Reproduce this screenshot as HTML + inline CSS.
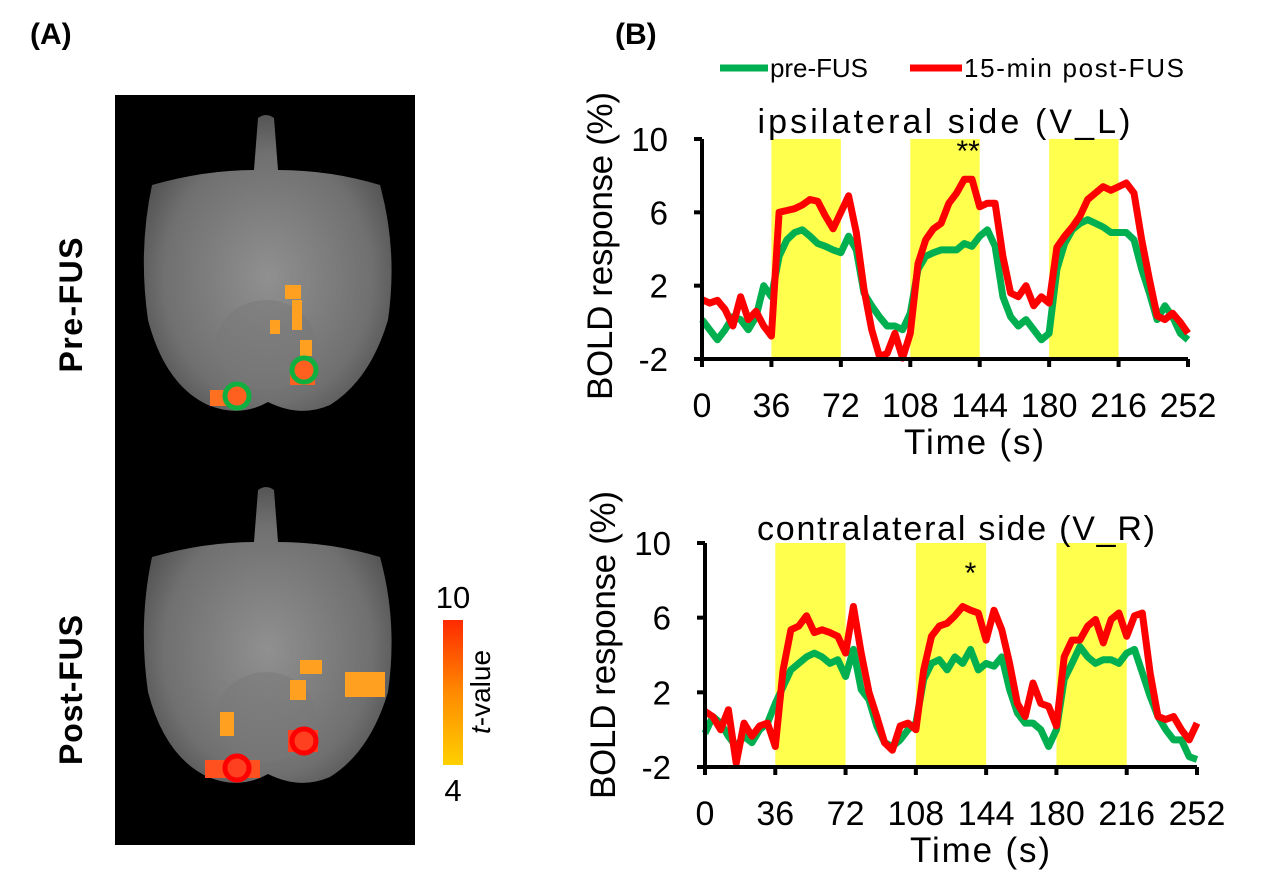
<!DOCTYPE html>
<html><head><meta charset="utf-8"><style>
body{margin:0;background:#fff;width:1268px;height:881px;overflow:hidden;font-family:"Liberation Sans","Noto Sans CJK SC",sans-serif}
svg text{font-family:"Liberation Sans","Noto Sans CJK SC",sans-serif;fill:#000}
</style></head><body>
<svg id="fig" width="1268" height="881" viewBox="0 0 1268 881">
<defs>
<radialGradient id="brainG" cx="0.5" cy="0.55" r="0.6">
<stop offset="0" stop-color="#909090"/><stop offset="0.7" stop-color="#707070"/><stop offset="1" stop-color="#4a4a4a"/></radialGradient>
<linearGradient id="cbar" x1="0" y1="0" x2="0" y2="1"><stop offset="0" stop-color="#ff2a00"/><stop offset="0.5" stop-color="#ff8a00"/><stop offset="1" stop-color="#ffd000"/></linearGradient>
</defs>
<text x="30" y="44" font-size="30" font-weight="bold">(A)</text>
<text x="615" y="44" font-size="30" font-weight="bold">(B)</text>
<rect x="115" y="95" width="300" height="750" fill="#000"/>
<g>
<path d="M258,118 Q266,112 274,118 L278,170 Q330,170 380,185 Q398,250 388,320 Q370,380 330,405 Q300,418 268,402 Q240,418 208,405 Q165,385 148,320 Q138,250 152,185 Q205,170 254,170 Z" fill="url(#brainG)"/>
<ellipse cx="266" cy="345" rx="50" ry="45" fill="#777" opacity="0.5"/>
</g>
<g>
<path d="M258,490 Q266,484 274,490 L278,542 Q330,542 380,557 Q398,622 388,692 Q370,752 330,777 Q300,790 268,774 Q240,790 208,777 Q165,757 148,692 Q138,622 152,557 Q205,542 254,542 Z" fill="url(#brainG)"/>
<ellipse cx="266" cy="717" rx="50" ry="45" fill="#777" opacity="0.5"/>
</g>
<g fill="#ffa020">
<rect x="285" y="285" width="16" height="14"/><rect x="292" y="300" width="10" height="30"/><rect x="270" y="320" width="10" height="14"/><rect x="300" y="340" width="12" height="16"/><rect x="210" y="390" width="35" height="16" fill="#ff7020"/><rect x="290" y="365" width="25" height="20" fill="#ff6020"/>
</g>
<g fill="#ffa020">
<rect x="300" y="660" width="22" height="14"/><rect x="345" y="672" width="40" height="25"/><rect x="290" y="680" width="16" height="20"/><rect x="220" y="712" width="14" height="24"/><rect x="205" y="760" width="55" height="18" fill="#ff5020"/><rect x="288" y="730" width="30" height="22" fill="#ff4020"/>
</g>
<circle cx="237" cy="396" r="12" fill="#ff6020" stroke="#10b040" stroke-width="5"/>
<circle cx="304" cy="370" r="12" fill="#ff6020" stroke="#10b040" stroke-width="5"/>
<circle cx="237" cy="768" r="12" fill="#ff4020" stroke="#ff0000" stroke-width="5"/>
<circle cx="304" cy="741" r="12" fill="#ff4020" stroke="#ff0000" stroke-width="5"/>
<text transform="translate(82,305) rotate(-90)" text-anchor="middle" font-size="32" font-weight="bold" textLength="135">Pre-FUS</text>
<text transform="translate(82,690) rotate(-90)" text-anchor="middle" font-size="32" font-weight="bold" textLength="150">Post-FUS</text>
<rect x="443" y="620" width="20" height="145" fill="url(#cbar)"/>
<text x="453" y="608" text-anchor="middle" font-size="31">10</text>
<text x="453" y="801" text-anchor="middle" font-size="31">4</text>
<text transform="translate(490,692) rotate(-90)" text-anchor="middle" font-size="28"><tspan font-style="italic">t</tspan>-value</text>
<g>
<line x1="720" y1="68" x2="768" y2="68" stroke="#00b050" stroke-width="7"/>
<text x="770" y="77" font-size="26" textLength="98">pre-FUS</text>
<line x1="910" y1="68" x2="962" y2="68" stroke="#ff0000" stroke-width="7"/>
<text x="964" y="77" font-size="26" textLength="220">15-min post-FUS</text>
</g>
<g id="c1"></g><g id="c2"></g>
</svg>
<script>
const xTicks=[0,36,72,108,144,180,216,252];
const yTicks=[-2,2,6,10];
const stimBlocks=[[36,72],[108,144],[180,216]];
const times=[];for(let t=0;t<=252;t+=4)times.push(t);
const ipsiPost=[1.24,1.05,1.2,0.7,-0.2,1.4,0.15,0.6,-0.2,-0.75,6.0,6.1,6.2,6.4,6.7,6.6,5.8,5.1,6.0,6.9,4.9,1.8,-0.4,-1.85,-1.7,-0.6,-1.95,-0.6,3.2,4.5,5.1,5.4,6.5,7.05,7.8,7.8,6.3,6.5,6.5,3.6,1.6,1.4,2.0,0.9,1.4,1.05,4.1,4.7,5.2,5.8,6.7,7.05,7.4,7.2,7.4,7.6,7.05,4.5,2.35,0.35,0.15,0.5,0,-0.6];
const ipsiPre=[0.15,-0.4,-0.95,-0.4,0.3,0.15,-0.4,0.3,2.0,1.4,3.6,4.5,4.9,5.05,4.7,4.3,4.15,3.95,3.8,4.7,3.95,1.6,0.9,0.3,-0.2,-0.2,-0.4,0.5,2.9,3.6,3.8,3.95,3.95,3.95,4.3,4.15,4.7,5.05,4.15,1.4,0.3,-0.2,0.15,-0.4,-0.95,-0.6,2.9,4.3,5.05,5.4,5.6,5.4,5.2,4.9,4.9,4.9,4.5,2.9,1.6,0.15,0.9,0.3,-0.6,-0.95];
const contraPost=[0.98,0.7,0,1.07,-1.8,0.35,-0.35,0.2,0.35,-0.9,3.2,5.35,5.55,6.1,5.2,5.35,5.2,5.0,4.1,6.6,4.1,2.0,0.7,-0.7,-1.1,0.2,0.35,0,3.2,5.0,5.55,5.7,6.1,6.6,6.4,6.25,4.8,6.4,5.35,3.55,1.4,0.7,2.5,1.4,1.25,0.2,3.9,4.8,4.8,5.55,5.9,4.65,5.9,6.25,5.0,6.1,6.25,3.05,0.7,0.55,0.7,0,-0.55,0.35];
const contraPre=[-0.2,0.7,0.35,-0.35,-0.9,-0.35,-0.7,0,0.35,1.4,2.3,3.2,3.55,3.9,4.1,3.9,3.55,3.75,2.85,4.3,2.15,1.6,0.2,-0.7,-0.9,-0.55,0,0.35,2.7,3.55,3.75,3.2,3.9,3.55,4.3,3.2,3.55,3.4,3.9,2.15,0.9,0.35,0.35,0,-0.9,0,2.7,3.55,4.45,3.9,3.55,3.75,3.75,3.55,4.1,4.3,3.05,1.8,0.7,0,-0.55,-0.55,-1.45,-1.6];
const NS='http://www.w3.org/2000/svg';
function mk(p,tag,a){const e=document.createElementNS(NS,tag);for(const k in a)e.setAttribute(k,a[k]);p.appendChild(e);return e;}
function chart(gid,cfg){
 const g=document.getElementById(gid);
 const X=t=>cfg.x0+(t-0)*(cfg.x1-cfg.x0)/252;
 const Y=v=>cfg.yb+(v+2)*(cfg.yt-cfg.yb)/12;
 stimBlocks.forEach(b=>{const r=mk(g,'rect',{x:X(b[0]),y:cfg.yt,width:X(b[1])-X(b[0]),height:cfg.yb-cfg.yt,fill:'#ffff4d'});
  
  });
 [[cfg.pre,'#00b050','pre-fus-line'],[cfg.post,'#ff0000','post-fus-line']].forEach(s=>{
  const d=s[0].map((v,i)=>(i?'L':'M')+X(times[i]).toFixed(1)+','+Y(v).toFixed(1)).join('');
  const p=mk(g,'path',{d:d,fill:'none',stroke:s[1],'stroke-width':7,'stroke-linejoin':'round'});
  
  });
 const ax=mk(g,'path',{d:`M${cfg.x0},${cfg.yt} V${cfg.yb} H${cfg.x1}`,fill:'none',stroke:'#000','stroke-width':4});
 
 
 xTicks.forEach(t=>{mk(g,'line',{x1:X(t),x2:X(t),y1:cfg.yb,y2:cfg.yb+8,stroke:'#000','stroke-width':4});
  const tx=mk(g,'text',{x:X(t),y:cfg.yb+58,'text-anchor':'middle','font-size':34});tx.textContent=t;
  
  });
 yTicks.forEach(v=>{mk(g,'line',{x1:cfg.x0-8,x2:cfg.x0,y1:Y(v),y2:Y(v),stroke:'#000','stroke-width':4});
  const tx=mk(g,'text',{x:cfg.x0-34,y:Y(v)+12,'text-anchor':'end','font-size':33});tx.textContent=v;
  
  });
 const xt=mk(g,'text',{x:(cfg.x0+cfg.x1)/2+29,y:cfg.yb+95,'text-anchor':'middle','font-size':35,textLength:140});xt.textContent='Time (s)';
 
 
 const yt=mk(g,'text',{transform:`translate(${cfg.x0-90},${cfg.ymid}) rotate(-90)`,'text-anchor':'middle','font-size':35,textLength:308});yt.textContent='BOLD response (%)';
 
 
 const ti=mk(g,'text',{x:cfg.tx,y:cfg.yt+cfg.tdy,'text-anchor':'middle','font-size':34,textLength:cfg.tw});ti.textContent=cfg.title;
 
 
 const st=mk(g,'text',{x:X(cfg.starT),y:cfg.yt+cfg.starDy,'text-anchor':'middle','font-size':30});st.textContent=cfg.star;
 
 
}
chart('c1',{x0:702,x1:1188,yt:139,yb:359,ymid:246,pre:ipsiPre,post:ipsiPost,title:'ipsilateral side (V_L)',tx:944,tw:373,tdy:-6,star:'**',starT:138,starDy:22});
chart('c2',{x0:705,x1:1197,yt:543,yb:767,ymid:645,pre:contraPre,post:contraPost,title:'contralateral side (V_R)',tx:956,tw:398,tdy:-3,star:'*',starT:136,starDy:40});
</script>
</body></html>
